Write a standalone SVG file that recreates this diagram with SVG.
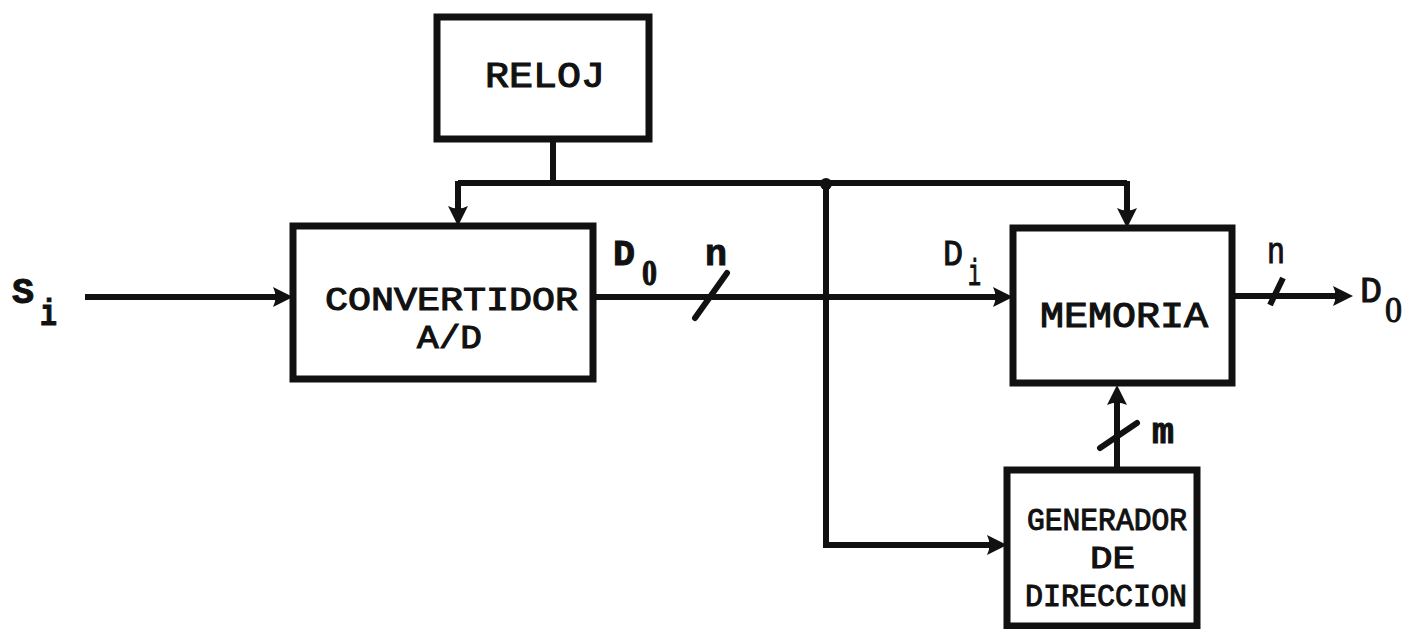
<svg xmlns="http://www.w3.org/2000/svg" width="1404" height="629" viewBox="0 0 1404 629">
<defs>
<style>
.box{fill:#fff;stroke:#111;stroke-width:7;stroke-linejoin:miter}
.ln{fill:none;stroke:#111;stroke-width:6}
.ah{fill:#111}
.t{font-family:"Liberation Mono","Courier New",monospace;font-size:36px;fill:#111;stroke:#111;stroke-width:1.1}
.t2{font-size:33px}
.t3{font-size:32px}
.lb{font-family:"Liberation Mono","Courier New",monospace;font-size:36px;fill:#111;stroke:#111;stroke-width:1}
.z{font-family:"Liberation Serif","Times New Roman",serif}
.b{font-weight:bold}
</style>
<path id="arr" d="M0,0 L-20,-10 Q-15,0 -20,10 Z"/>
</defs>
<rect width="1404" height="629" fill="#fff"/>

<g id="connectors">
<line class="ln" x1="553" y1="140" x2="553" y2="183" stroke="#333"/>
<polyline class="ln" points="458,183 1127,183"/>
<polyline class="ln" points="458,181 458,212"/>
<use href="#arr" class="ah" transform="translate(458,226) rotate(90)"/>
<polyline class="ln" points="1127,181 1127,214"/>
<use href="#arr" class="ah" transform="translate(1127,228) rotate(90)"/>
<circle cx="826" cy="184" r="6" fill="#111"/>
<polyline class="ln" points="826,184 826,545 994,545"/>
<use href="#arr" class="ah" transform="translate(1007,545)"/>
<line class="ln" x1="85" y1="297" x2="280" y2="297"/>
<use href="#arr" class="ah" transform="translate(293,297)"/>
<line class="ln" x1="593" y1="297" x2="1000" y2="297"/>
<use href="#arr" class="ah" transform="translate(1013,297)"/>
<line class="ln" x1="1232" y1="296" x2="1340" y2="296"/>
<use href="#arr" class="ah" transform="translate(1353,296)"/>
<line class="ln" x1="1117" y1="468" x2="1117" y2="398"/>
<use href="#arr" class="ah" transform="translate(1117,385) rotate(-90)"/>
<line class="ln" x1="695" y1="318" x2="727" y2="273" stroke-linecap="round"/>
<line class="ln" x1="1270" y1="305" x2="1283" y2="278" stroke-width="4"/>
<line class="ln" x1="1100" y1="448" x2="1137" y2="423" stroke-linecap="round"/>
</g>

<g id="reloj">
<rect class="box" x="437" y="17" width="212" height="122"/>
<text class="t" x="485" y="87" textLength="120" lengthAdjust="spacingAndGlyphs">RELOJ</text>
</g>

<g id="convertidor">
<rect class="box" x="293" y="226" width="300" height="153"/>
<text class="t t2" x="325" y="310" textLength="253" lengthAdjust="spacingAndGlyphs">CONVERTIDOR</text>
<text class="t t2" x="417" y="348" textLength="65" lengthAdjust="spacingAndGlyphs">A/D</text>
</g>

<g id="memoria">
<rect class="box" x="1013" y="228" width="219" height="155"/>
<text class="t" x="1040" y="327" textLength="168" lengthAdjust="spacingAndGlyphs">MEMORIA</text>
</g>

<g id="generador">
<rect class="box" x="1007" y="470" width="190" height="156"/>
<text class="t t3" x="1027" y="530" textLength="160" lengthAdjust="spacingAndGlyphs">GENERADOR</text>
<text class="t t3" x="1090" y="568" textLength="45" lengthAdjust="spacingAndGlyphs">DE</text>
<text class="t t3" x="1025" y="606" textLength="162" lengthAdjust="spacingAndGlyphs">DIRECCION</text>
</g>

<g id="labels">
<text class="lb b" x="12" y="303" textLength="22" lengthAdjust="spacingAndGlyphs">S</text>
<text class="lb b" x="40" y="325" textLength="17" lengthAdjust="spacingAndGlyphs">i</text>
<text class="lb b" x="613" y="265" textLength="22" lengthAdjust="spacingAndGlyphs">D</text>
<text class="lb b z" x="642" y="285" textLength="15" lengthAdjust="spacingAndGlyphs">0</text>
<text class="lb b" x="705" y="265" textLength="22" lengthAdjust="spacingAndGlyphs">n</text>
<text class="lb" x="943" y="265" textLength="20" lengthAdjust="spacingAndGlyphs">D</text>
<text class="lb" x="968" y="285" textLength="13" lengthAdjust="spacingAndGlyphs">i</text>
<text class="lb" x="1267" y="263" textLength="18" lengthAdjust="spacingAndGlyphs">n</text>
<text class="lb" x="1360" y="302" textLength="22" lengthAdjust="spacingAndGlyphs">D</text>
<text class="lb z" x="1385" y="322" textLength="17" lengthAdjust="spacingAndGlyphs">0</text>
<text class="lb b" x="1152" y="443" textLength="22" lengthAdjust="spacingAndGlyphs">m</text>
</g>
</svg>
